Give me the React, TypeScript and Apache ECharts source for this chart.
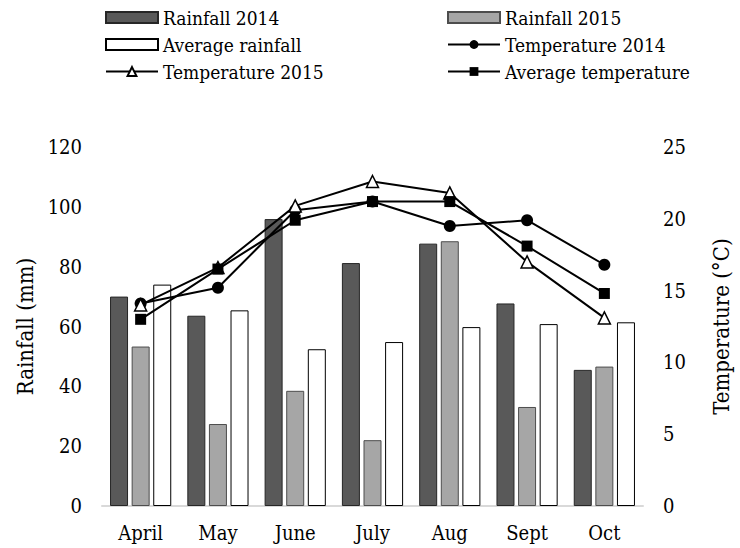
import React, { useEffect, useRef } from "react";
import * as echarts from "echarts";

const months = ["April", "May", "June", "July", "Aug", "Sept", "Oct"];
const rainfall2014 = [70, 63.6, 95.9, 81.2, 87.7, 67.7, 45.5];
const rainfall2015 = [53.3, 27.4, 38.5, 22, 88.5, 33.1, 46.6];
const averageRainfall = [74, 65.4, 52.4, 54.8, 59.8, 60.8, 61.4];
const temperature2014 = [14.1, 15.2, 20.6, 21.2, 19.5, 19.9, 16.8];
const temperature2015 = [14.0, 16.6, 20.9, 22.6, 21.8, 17.0, 13.1];
const averageTemperature = [13.0, 16.5, 19.9, 21.2, 21.2, 18.1, 14.8];

const FONT = "'DejaVu Serif Condensed', 'DejaVu Serif'";

export default function App() {
  const ref = useRef<HTMLDivElement>(null);
  useEffect(() => {
    if (!ref.current) return;
    const chart = echarts.init(ref.current, null, { renderer: "svg" });
    const legendText = { fontFamily: FONT, fontSize: 19, color: "#000" };
    const barW = 18;
    const lineCommon = (name: string, data: number[], symbol: string, size: number, fill: string) => ({
      name,
      type: "line",
      yAxisIndex: 1,
      data,
      symbol,
      symbolSize: size,
      showAllSymbol: true,
      lineStyle: { color: "#000", width: 2 },
      itemStyle: { color: fill, borderColor: "#000", borderWidth: fill === "#fff" ? 1.5 : 0 },
      z: 5,
    });
    const legendCommon = {
      orient: "vertical",
      top: 3,
      itemWidth: 52,
      itemHeight: 11,
      itemGap: 8,
      textStyle: legendText,
    };
    chart.setOption({
      animation: false,
      backgroundColor: "#fff",
      textStyle: { fontFamily: FONT },
      legend: [
        {
          ...legendCommon,
          left: 100,
          data: [
            { name: "Rainfall 2014", icon: "rect" },
            { name: "Average rainfall", icon: "rect" },
            { name: "Temperature 2015" },
          ],
        },
        {
          ...legendCommon,
          left: 442,
          data: [
            { name: "Rainfall 2015", icon: "rect" },
            { name: "Temperature 2014" },
            { name: "Average temperature" },
          ],
        },
      ],
      grid: { left: 102, right: 80, top: 147, bottom: 42, containLabel: false },
      xAxis: {
        type: "category",
        data: months,
        boundaryGap: true,
        axisLine: { lineStyle: { color: "#d9d9d9", width: 2 } },
        axisTick: { show: false },
        axisLabel: { fontFamily: FONT, fontSize: 20, color: "#000", margin: 17 },
      },
      yAxis: [
        {
          type: "value",
          min: 0,
          max: 120,
          interval: 20,
          name: "Rainfall (mm)",
          nameLocation: "middle",
          nameRotate: 90,
          nameGap: 63,
          nameTextStyle: { fontFamily: FONT, fontSize: 22, color: "#000" },
          axisLine: { show: false },
          axisTick: { show: false },
          splitLine: { show: false },
          axisLabel: { fontFamily: FONT, fontSize: 20, color: "#000", margin: 20 },
        },
        {
          type: "value",
          min: 0,
          max: 25,
          interval: 5,
          position: "right",
          name: "Temperature (°C)",
          nameLocation: "middle",
          nameRotate: 90,
          nameGap: 67,
          nameTextStyle: { fontFamily: FONT, fontSize: 22, color: "#000" },
          axisLine: { show: false },
          axisTick: { show: false },
          splitLine: { show: false },
          axisLabel: { fontFamily: FONT, fontSize: 20, color: "#000", margin: 20 },
        },
      ],
      series: [
        {
          name: "Rainfall 2014",
          type: "bar",
          data: rainfall2014,
          barWidth: barW,
          barGap: "20%",
          itemStyle: { color: "#595959", borderColor: "#262626", borderWidth: 1 },
        },
        {
          name: "Rainfall 2015",
          type: "bar",
          data: rainfall2015,
          barWidth: barW,
          barGap: "20%",
          itemStyle: { color: "#a6a6a6", borderColor: "#4d4d4d", borderWidth: 1 },
        },
        {
          name: "Average rainfall",
          type: "bar",
          data: averageRainfall,
          barWidth: barW,
          barGap: "20%",
          itemStyle: { color: "#ffffff", borderColor: "#000", borderWidth: 1 },
        },
        lineCommon("Temperature 2014", temperature2014, "circle", 12, "#000"),
        lineCommon("Temperature 2015", temperature2015, "triangle", 12, "#fff"),
        lineCommon("Average temperature", averageTemperature, "rect", 11, "#000"),
      ],
    });
    return () => chart.dispose();
  }, []);
  return (
    <div
      ref={ref}
      style={{ position: "absolute", left: 0, top: 0, width: 740, height: 548 }}
    />
  );
}
